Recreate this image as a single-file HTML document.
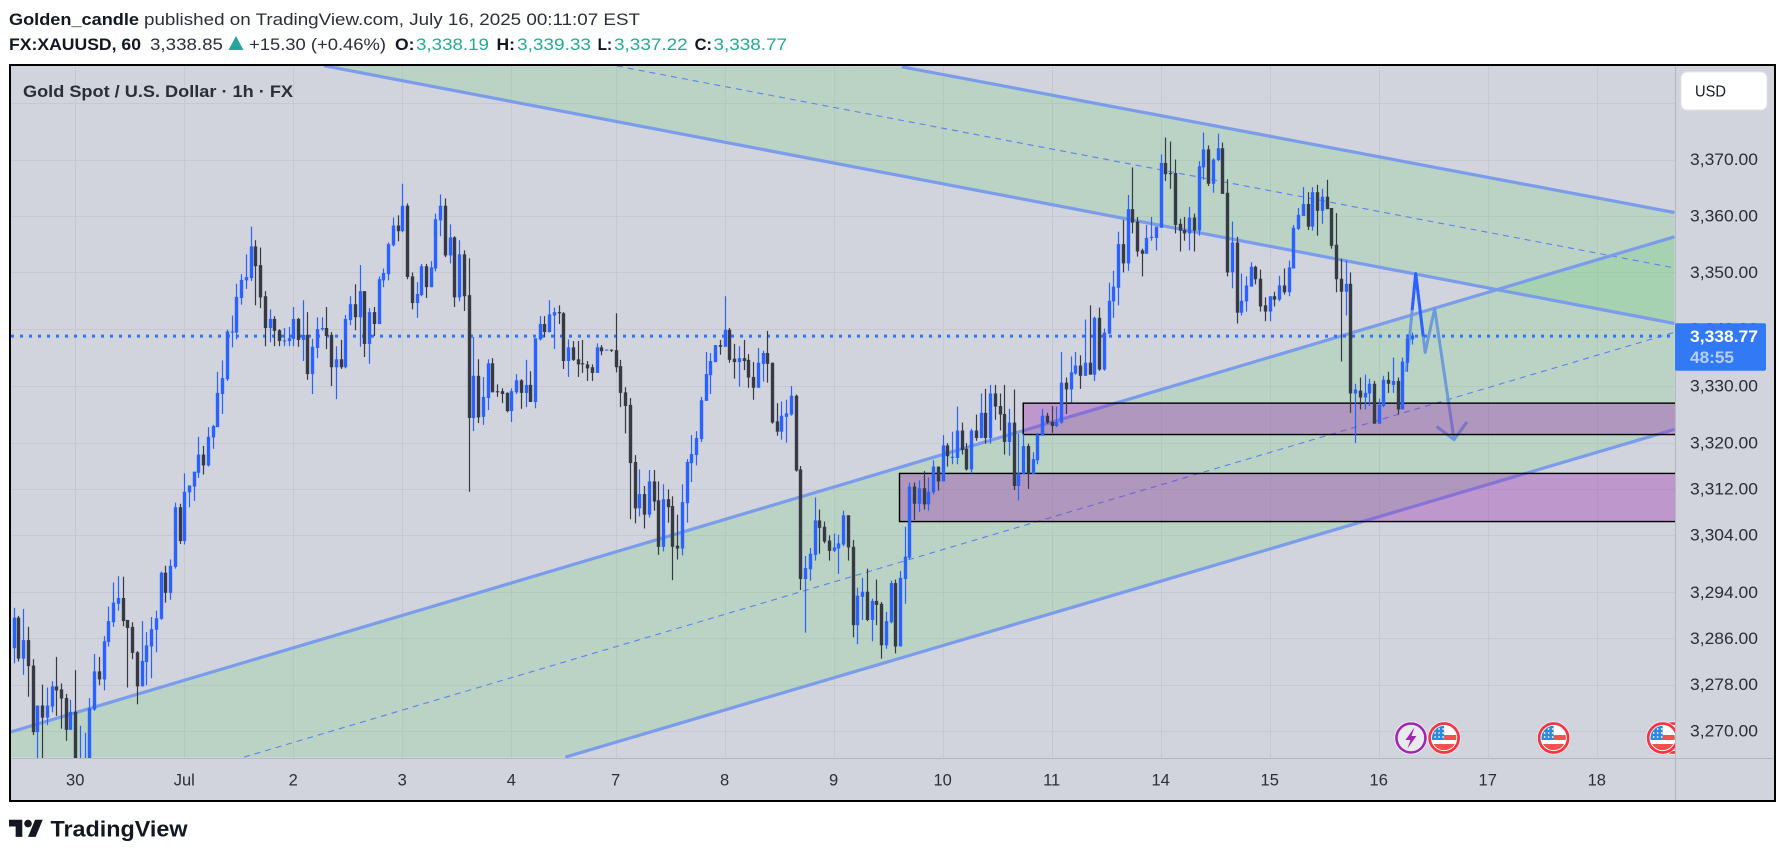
<!DOCTYPE html>
<html lang="en">
<head>
<meta charset="utf-8">
<title>XAUUSD 1h chart</title>
<style>
html,body{margin:0;padding:0;background:#fff;width:1785px;height:856px;overflow:hidden}
svg{display:block;font-family:"Liberation Sans",sans-serif}
</style>
</head>
<body>
<svg id="root" xmlns="http://www.w3.org/2000/svg" width="1785" height="856" viewBox="0 0 1785 856">
  <defs>
    <clipPath id="plotClip"><rect x="11" y="66" width="1664" height="692"/></clipPath>
    <clipPath id="badgeClip"><circle cx="0" cy="0" r="12.2"/></clipPath>
  </defs>
  <rect x="0" y="0" width="1785" height="856" fill="#ffffff"/>

  <g fill="#131722">
    <text x="9" y="25" font-size="17" font-weight="bold" textLength="130" lengthAdjust="spacingAndGlyphs">Golden_candle</text>
    <text x="144" y="25" font-size="17" fill="#2a2e39" textLength="496" lengthAdjust="spacingAndGlyphs">published on TradingView.com, July 16, 2025 00:11:07 EST</text>
    <text x="9" y="50" font-size="17" font-weight="bold" textLength="132" lengthAdjust="spacingAndGlyphs">FX:XAUUSD, 60</text>
    <text x="150" y="50" font-size="17" fill="#2a2e39" textLength="73" lengthAdjust="spacingAndGlyphs">3,338.85</text>
    <polygon points="236,36 243.5,50 228.5,50" fill="#26a69a"/>
    <text x="249" y="50" font-size="17" fill="#2a2e39" textLength="137" lengthAdjust="spacingAndGlyphs">+15.30 (+0.46%)</text>
    <text x="395" y="50" font-size="17" font-weight="bold" textLength="19.5" lengthAdjust="spacingAndGlyphs">O:</text>
    <text x="416" y="50" font-size="17" fill="#22ab94" textLength="73" lengthAdjust="spacingAndGlyphs">3,338.19</text>
    <text x="496.5" y="50" font-size="17" font-weight="bold" textLength="18.5" lengthAdjust="spacingAndGlyphs">H:</text>
    <text x="517" y="50" font-size="17" fill="#22ab94" textLength="74" lengthAdjust="spacingAndGlyphs">3,339.33</text>
    <text x="597.6" y="50" font-size="17" font-weight="bold" textLength="14.5" lengthAdjust="spacingAndGlyphs">L:</text>
    <text x="614" y="50" font-size="17" fill="#22ab94" textLength="73.7" lengthAdjust="spacingAndGlyphs">3,337.22</text>
    <text x="694.6" y="50" font-size="17" font-weight="bold" textLength="17.4" lengthAdjust="spacingAndGlyphs">C:</text>
    <text x="713.5" y="50" font-size="17" fill="#22ab94" textLength="73.5" lengthAdjust="spacingAndGlyphs">3,338.77</text>
  </g>

  <rect x="10" y="65" width="1765" height="736" fill="#d1d4dc"/>
  <g id="grid"></g>
  <g id="drawings" clip-path="url(#plotClip)"></g>
  <g id="series" clip-path="url(#plotClip)"></g>
  <g id="events" clip-path="url(#plotClip)"></g>

  <line x1="1675.5" y1="65" x2="1675.5" y2="801" stroke="#b4b7c0" stroke-width="1"/>
  <line x1="10" y1="758.5" x2="1775" y2="758.5" stroke="#b4b7c0" stroke-width="1"/>
  <g id="priceAxis"></g>
  <g id="timeAxis"></g>

  <rect x="1675" y="323.3" width="91" height="47.4" rx="2" fill="#3179f5"/>
  <text x="1690" y="342" font-size="17" font-weight="bold" fill="#ffffff" textLength="68" lengthAdjust="spacingAndGlyphs">3,338.77</text>
  <text x="1690" y="363" font-size="17" font-weight="bold" fill="#b5cffb" textLength="44" lengthAdjust="spacingAndGlyphs">48:55</text>

  <rect x="1681" y="72" width="86" height="38" rx="6" fill="#ffffff" stroke="#e3e5ec" stroke-width="1"/>
  <text x="1695" y="96.5" font-size="16" fill="#131722" textLength="31" lengthAdjust="spacingAndGlyphs">USD</text>

  <text x="23" y="97" font-size="16.5" font-weight="bold" fill="#2a2e39" textLength="270" lengthAdjust="spacingAndGlyphs">Gold Spot / U.S. Dollar · 1h · FX</text>

  <rect x="10" y="65" width="1765" height="736" fill="none" stroke="#000000" stroke-width="2"/>

  <g>
    <g transform="translate(9,816) scale(0.95)" fill="#131722">
      <path d="M14 22H7V11H0V4h14v18zM28 22h-8l7.5-18h8L28 22z"/>
      <circle cx="20" cy="8" r="4"/>
    </g>
    <text x="50.5" y="836.5" font-size="22" font-weight="bold" fill="#131722" textLength="137" lengthAdjust="spacingAndGlyphs">TradingView</text>
  </g>
</svg>

<script>
const candleOpen = [
3284.3,3289.6,3282.5,3285.7,3281.3,3269.8,3274.4,3272.3,3274.2,3277.7,
3277.2,3275.7,3270.2,3273.3,3261,3262,3262,3273.7,3280.3,3278.9,
3285.4,3288.8,3292,3293,3289.2,3288,3283.6,3277.7,3281.9,3284.6,
3287.5,3289.4,3297.4,3293.9,3298.4,3308.8,3302.9,3311.4,3312.4,3314.8,
3318,3316.1,3321,3322.8,3328.6,3331.2,3339.4,3339.4,3345.5,3348.6,
3349,3354.6,3351.3,3345.8,3340.2,3341.8,3339.8,3337.9,3337.9,3338.3,
3341.8,3338.1,3339,3332.1,3336.7,3340,3340.2,3339,3333.3,3334.7,
3333.3,3341.6,3344.4,3342.1,3346.7,3337.4,3343,3340.9,3348.6,3349.7,
3354.8,3358.3,3357.3,3361.8,3349.3,3344.6,3346,3351.1,3347.4,3350.7,
3359.2,3361.8,3353,3356.2,3345.6,3353.2,3346,3324.4,3331.8,3324.6,
3327.9,3334,3329.1,3329.1,3328.8,3325.6,3328.9,3331,3328.8,3330.2,
3327.2,3338.2,3340.9,3339.5,3342.4,3343,3342.8,3334.4,3336.8,3334.7,
3334,3333.8,3333.3,3332.3,3336.8,3336.3,3336.4,3336.3,3333.5,3328.9,
3326.7,3316.7,3308.6,3311.1,3307.5,3313.3,3310,3301.9,3310.2,3309,
3302.1,3301.6,3309.5,3316.5,3317.9,3320.7,3327.4,3331.9,3334.2,3337.2,
3336.9,3339.9,3334.8,3334.2,3334.9,3334.6,3331.6,3329.7,3333.9,3335.8,
3334.1,3323.8,3322,3324.6,3325,3328.3,3315.4,3296.3,3298,3300.5,
3306.5,3305.4,3303,3301.2,3301.6,3302.3,3307.4,3301.9,3288.3,3293.2,
3294.1,3289.2,3292.5,3292,3284.8,3288.8,3295.6,3284.6,3296.3,3300,
3312.4,3309.4,3312.1,3309.3,3311.4,3315.9,3313.3,3319.6,3317.4,3317.4,
3322.2,3319,3315.4,3322.2,3320.9,3325.3,3320.9,3328.7,3326.5,3325.1,
3320.2,3323.6,3312.5,3314.6,3319.5,3314.6,3317,3321.3,3324.8,3323.7,
3323,3323.6,3330.6,3329.4,3332.2,3333.6,3331.8,3334.1,3332,3342,
3332.9,3339.2,3344.9,3347.3,3355,3351.6,3361.2,3359,3353.9,3353.3,
3356.1,3356.1,3357.9,3369.4,3367.6,3367.6,3358.6,3357.5,3356.9,3359.7,
3357.4,3368.6,3371.8,3365.7,3369.9,3372,3364.1,3350,3355.3,3342.9,
3344.9,3347.5,3351,3348.9,3344.2,3343.1,3345.8,3345.2,3347.7,3346.5,
3350.7,3357.7,3360,3362.1,3358.1,3364.2,3360.9,3363.4,3361.4,3354.9,
3348.9,3346.6,3348,3328.7,3329.2,3328,3328.7,3330.4,3323.4,3326.5,
3331.1,3330.2,3330.9,3325.9,3334.1,3338.2];
const candleHigh = [
3291.3,3289.9,3291.1,3288,3282.4,3274.4,3278,3277.5,3278.6,3282.8,
3278.2,3276.4,3275.4,3280.5,3270.9,3269.7,3275.7,3283.3,3282.8,3286.4,
3291.5,3295.7,3296.8,3296.7,3289.2,3288.8,3283.8,3289,3287.1,3289.7,
3290.8,3297.6,3298.6,3299.7,3309.6,3309.4,3314.7,3312.6,3315,3321.1,
3319.5,3322.8,3323.2,3332.5,3334.5,3339.9,3342.4,3348,3349.7,3353.2,
3358.1,3355.7,3354.4,3346.7,3343.5,3342.3,3340,3340.2,3340.4,3343.9,
3342,3345.1,3343,3338.3,3342.1,3342.1,3343.9,3339.5,3337,3338.1,
3342.5,3345.8,3347.9,3351.3,3346.7,3343.7,3343.9,3349.3,3350.7,3355.3,
3359.7,3360.1,3365.7,3362.2,3350,3348.3,3351.5,3351.5,3352,3360.4,
3363.8,3363.1,3358.5,3356.4,3355.7,3353.9,3352.5,3338.6,3334.7,3331.6,
3334.7,3334.9,3330.3,3329.6,3328.9,3329.6,3332.1,3331.2,3334.6,3332.6,
3338.4,3342.3,3342.3,3345.1,3343.8,3344.2,3343,3338.2,3337.9,3337.9,
3338.1,3334.4,3333.8,3337.5,3337.2,3336.4,3336.4,3342.8,3334.6,3329.8,
3327.9,3317.9,3315.4,3312.5,3315.3,3315.3,3313.3,3312.8,3311.9,3310.7,
3307.5,3312.8,3317.2,3321.4,3322.1,3328.1,3336,3335.8,3337.2,3338.1,
3345.8,3340.2,3337.4,3337,3338.1,3335.6,3334.2,3336.7,3336.2,3339.7,
3334.1,3327,3327.3,3327.6,3330,3328.5,3316,3300.3,3301.7,3310.5,
3308.4,3306.3,3303.9,3304.2,3304,3308.2,3307.4,3303.1,3294.8,3296.5,
3298.1,3292.9,3296.2,3292.3,3290.6,3296,3296.2,3297.7,3305.4,3313.1,
3313.1,3313.5,3315.1,3314,3317,3315.9,3321.4,3320,3322,3326.4,
3323.6,3320,3322.5,3325,3328.7,3329.5,3330.2,3330.2,3328.7,3330.2,
3326,3329.4,3321.6,3321.6,3319.9,3318.4,3321.8,3326,3325.3,3326.5,
3326.4,3336,3331.5,3335.2,3336,3335.4,3341.7,3344.2,3342.2,3343.8,
3340.1,3348.2,3350.3,3357.2,3359.3,3363.7,3368.6,3359.8,3354.2,3358.4,
3359.8,3358.1,3370.9,3373.9,3373.2,3370,3359.5,3359.8,3361.6,3360.4,
3369.7,3374.8,3372.5,3370.2,3374.6,3373,3366.5,3359,3356.3,3349.8,
3349.3,3351.8,3351.2,3350.5,3345.6,3345.8,3346.6,3349.4,3350.7,3352.1,
3358.4,3361.4,3365.1,3364.2,3365.1,3365.5,3364.8,3366.4,3361.4,3360.5,
3352.4,3352.1,3350,3330.4,3331.5,3332,3331.3,3330.9,3327.8,3331.8,
3332.5,3335,3331.5,3335,3339.1,3339.4];
const candleLow = [
3281.7,3282,3279.7,3275.9,3269.3,3263,3263,3271,3273.2,3272.6,
3270.4,3268.3,3270.2,3261,3258,3258,3260,3273.5,3277.9,3277,
3284.6,3288,3290.8,3288.1,3277.5,3282.4,3274.6,3277.7,3277.9,3279.1,
3283.6,3289.2,3292.2,3292.7,3298.1,3302.4,3302.3,3308.8,3309.9,3313.9,
3314.5,3315.9,3319,3322.8,3325.1,3330.9,3336.8,3338.2,3344.3,3347.1,
3348.5,3344.2,3343.7,3337,3337.7,3337,3337,3337,3337,3337,
3336.9,3334.4,3331.1,3328.6,3334.9,3339.7,3336.5,3330,3327.7,3333,
3333.1,3340.7,3339.8,3336.9,3335.1,3333.9,3338.8,3340.9,3347.4,3348.6,
3354.6,3355.5,3357.1,3348.8,3343.5,3342,3345.8,3345.5,3347.4,3350.2,
3356.4,3352.7,3351.6,3343.9,3344.9,3343.2,3311.5,3322.1,3323.5,3323.2,
3325.8,3328.9,3328.1,3327,3325.4,3323.7,3328.6,3326,3326.3,3327.2,
3326.1,3338,3338.6,3339.4,3336.5,3340.9,3333,3331.6,3334.4,3331.6,
3332.3,3330.9,3330.9,3332.3,3335.4,3336.3,3336,3332.4,3326.3,3321.7,
3306.7,3306,3307.2,3305.1,3307,3308.2,3300.5,3301.1,3306.1,3296.1,
3299.7,3300.4,3306.1,3313.2,3316.1,3320.2,3327.4,3328.6,3334.2,3335.5,
3336.9,3334.1,3331.3,3329.9,3332.8,3329.7,3327.6,3329.7,3330.8,3330.6,
3323.4,3321.3,3320.6,3320.1,3324.8,3315,3294.4,3287,3296,3299.5,
3300.7,3302.5,3299.5,3301,3297.2,3302,3299.5,3286.2,3285,3289.2,
3289,3285.5,3288.3,3282.5,3284.2,3288.6,3283.4,3284.6,3292,3299.7,
3306.6,3308,3308.4,3308.2,3311,3311.7,3313.3,3315.9,3316.3,3316.3,
3318,3315.2,3314.7,3320.4,3320.9,3319.9,3319.9,3324.1,3322.2,3318,
3317.8,3311.8,3310,3314.6,3312,3314.6,3316.3,3321.3,3323.4,3321.8,
3322.8,3323.4,3325.1,3327.1,3332,3329.5,3331.8,3332,3330.9,3332.7,
3332.7,3339.2,3342,3344.2,3350,3350.3,3356.9,3352.8,3349.3,3353.3,
3355.6,3353.9,3357.9,3366.2,3364.8,3356.9,3353.7,3355.6,3353.9,3353.7,
3356.5,3366.4,3365.3,3364.1,3369.7,3363.9,3349.3,3347.2,3341,3342.4,
3343.1,3347.5,3347.9,3343.1,3341.4,3341.4,3344,3344.9,3346.1,3345.8,
3350.7,3357.5,3360,3357.5,3357.4,3356.5,3358.6,3361.2,3354.2,3346.5,
3334.3,3342.4,3325.3,3320,3325.9,3325.9,3326.5,3323.4,3323.4,3326.3,
3328.8,3328.8,3325,3325.9,3332.5,3337.3];
const candleClose = [
3289.6,3282.5,3285.7,3281.2,3269.8,3274.4,3272.3,3274.4,3277.7,3277,
3275.6,3270.2,3273.3,3263,3263,3263.5,3273.9,3280.3,3278.9,3285.5,
3289,3292.2,3293,3289,3287.8,3283.5,3277.7,3282.1,3284.8,3287.6,
3289.5,3297.4,3293.9,3298.6,3308.8,3302.9,3311.5,3312.6,3315,3318,
3316.1,3321.1,3323,3328.8,3331.4,3339.6,3339.6,3345.7,3348.7,3349.2,
3354.6,3351.1,3345.6,3340.2,3341.8,3339.7,3337.9,3338,3338.4,3341.8,
3338.1,3339,3332.1,3336.9,3340,3340.2,3338.8,3333.3,3334.7,3333.3,
3341.8,3344.4,3342.1,3346.7,3337.4,3343,3340.9,3348.8,3349.9,3355,
3358.3,3357.3,3361.8,3349.2,3344.6,3346.2,3351.1,3347.4,3350.9,3359.4,
3361.8,3353,3356.2,3345.6,3353.2,3345.8,3324.4,3331.8,3324.5,3328.1,
3334,3328.9,3328.9,3328.6,3325.6,3329.1,3331,3328.8,3330.2,3327.2,
3338.4,3340.9,3339.5,3342.6,3343,3342.8,3334.4,3336.8,3334.6,3333.8,
3333.8,3333.1,3332.3,3336.8,3336.1,3336.4,3336.2,3333.3,3328.8,3326.5,
3316.5,3308.6,3311.1,3307.5,3313.3,3309.8,3301.9,3310.2,3308.8,3301.9,
3301.6,3309.7,3316.7,3318.1,3320.9,3327.5,3332.1,3334.4,3337.2,3336.9,
3339.9,3334.6,3334.2,3334.9,3334.4,3331.5,3329.7,3334.1,3335.8,3333.9,
3323.6,3322,3324.8,3325.2,3328.3,3315.2,3296.3,3298.2,3300.7,3306.5,
3305.2,3302.8,3301.2,3301.8,3302.5,3307.4,3301.8,3288.3,3293.4,3294.1,
3289.2,3292.5,3291.8,3284.8,3289,3295.6,3284.6,3296.5,3300.2,3312.4,
3309.4,3312.1,3309.3,3311.5,3315.9,3313.3,3319.6,3317.7,3317.6,3322.2,
3318.8,3315.4,3322.2,3320.9,3325.3,3320.9,3328.7,3326.4,3325,3320.2,
3323.6,3312.5,3314.7,3319.5,3314.6,3317.2,3321.5,3324.8,3323.6,3323,
3323.7,3330.6,3329.4,3332.4,3333.6,3331.8,3334.1,3332,3342,3332.9,
3339.4,3345,3347.5,3355,3351.6,3361.2,3358.8,3353.7,3353.3,3356.1,
3356.3,3358.1,3369.4,3367.4,3367.4,3358.4,3357.4,3356.9,3359.7,3357.4,
3368.8,3371.8,3365.7,3370,3372,3363.9,3350,3355.3,3342.9,3345,
3347.7,3351,3348.8,3344,3343.1,3345.8,3345.2,3347.7,3346.5,3350.9,
3357.9,3360.2,3362.1,3358.1,3364.2,3360.9,3363.4,3361.2,3354.7,3348.8,
3346.6,3348,3328.7,3329.4,3328,3328.8,3330.4,3323.4,3326.7,3331.1,
3330.4,3330.9,3325.9,3334.3,3338.4,3338.9];

const gridPrices = [3380,3370,3360,3350,3340,3330,3320,3312,3304,3294,3286,3278,3270];
const priceTickValues = [3370,3360,3350,3340,3330,3320,3312,3304,3294,3286,3278,3270];
const priceTickLabels = ["3,370.00","3,360.00","3,350.00","3,340.00","3,330.00","3,320.00","3,312.00","3,304.00","3,294.00","3,286.00","3,278.00","3,270.00"];
const dayTickBars = [13,36,59,82,105,127,150,173,196,219,242,265,288,311,334];
const dayTickLabels = ["30","Jul","2","3","4","7","8","9","10","11","14","15","16","17","18"];
const lastPriceValue = 3338.77;

// channel anchors: [start, end] as bar index and price
const descUpperBars = [187.4,350.4];
const descUpperPrices = [3386.5,3360.6];
const descLowerBars = [65.5,350.4];
const descLowerPrices = [3386.7,3341.0];
const descMidBars = [127.3,350.4];
const descMidPrices = [3386.65,3350.8];
const ascUpperBars = [-0.76,350.4];
const ascUpperPrices = [3269.8,3356.3];
const ascLowerBars = [116.4,350.4];
const ascLowerPrices = [3265.5,3322.4];
const ascMidBars = [48.6,350.4];
const ascMidPrices = [3265.5,3339.45];
const ascFillCornerBar = [-0.76];
const ascFillCornerPrice = [3265.5];

const zoneStartBars = [213,186.9];
const zoneTopPrices = [3327.0,3314.7];
const zoneBottomPrices = [3321.5,3306.3];
const zoneEndBar = 351;

const forecastBars = [293.8,295.8,297.8,299.8,303.9];
const forecastPrices = [3332.5,3349.8,3335.9,3343.6,3320.6];
const arrowHeadBars = [300.2,303.9,306.6];
const arrowHeadPrices = [3322.9,3320.6,3323.7];

const lightningEventBars = [294.8];
const usEventBars = [350,301.8,324.9,347.9];

const SVGNS = 'http://www.w3.org/2000/svg';
const PLOT_LEFT = 10, PLOT_RIGHT = 1675, TOP = 65, BOTTOM = 758;
const xScale = function (bar) { return 13.6 + 4.74 * bar; };
const yScale = function (price) { return 103.3 + 18972 * Math.log(3380 / price); };

function make(tag, attrs, parent) {
  const el = document.createElementNS(SVGNS, tag);
  for (const k in attrs) el.setAttribute(k, attrs[k]);
  parent.appendChild(el);
  return el;
}
const gridLayer = document.getElementById('grid');
const drawLayer = document.getElementById('drawings');
const seriesLayer = document.getElementById('series');
const eventLayer = document.getElementById('events');
const priceAxis = document.getElementById('priceAxis');
const timeAxis = document.getElementById('timeAxis');

gridPrices.forEach(function (p) {
  const y = Math.round(yScale(p)) + 0.5;
  const el = make('line', {x1: PLOT_LEFT, x2: PLOT_RIGHT, y1: y, y2: y, stroke: '#c6c9d2', 'stroke-width': 1}, gridLayer);
  
  
});
dayTickBars.forEach(function (b) {
  const x = Math.round(xScale(b)) + 0.5;
  const el = make('line', {x1: x, x2: x, y1: TOP, y2: BOTTOM, stroke: '#c6c9d2', 'stroke-width': 1}, gridLayer);
  
  
});

function pts(bars, prices) {
  return bars.map(function (b, i) { return xScale(b) + ',' + yScale(prices[i]); }).join(' ');
}
function channelFill(bars1, prices1, bars2, prices2, name) {
  const points = pts(bars1, prices1) + ' ' + pts(bars2.slice().reverse(), prices2.slice().reverse());
  const el = make('polygon', {points: points, fill: 'rgba(80,206,85,0.17)'}, drawLayer);
  
  
}
function trendLine(bars, prices, dashed, name) {
  const attrs = {x1: xScale(bars[0]), y1: yScale(prices[0]), x2: xScale(bars[1]), y2: yScale(prices[1])};
  if (dashed) {
    attrs.stroke = '#5b83ef';
    attrs['stroke-width'] = 1.1;
    attrs['stroke-dasharray'] = '6 5';
  } else {
    attrs.stroke = '#7b9cea';
    attrs['stroke-width'] = 3.2;
  }
  const el = make('line', attrs, drawLayer);
  
  
}
channelFill(descUpperBars, descUpperPrices, descLowerBars, descLowerPrices, 'descending-channel-fill');
channelFill(ascUpperBars.concat(ascLowerBars.slice().reverse(), ascFillCornerBar), ascUpperPrices.concat(ascLowerPrices.slice().reverse(), ascFillCornerPrice), [], [], 'ascending-channel-fill');
trendLine(descUpperBars, descUpperPrices, false, 'descending-channel-upper');
trendLine(descMidBars, descMidPrices, true, 'descending-channel-median');
trendLine(descLowerBars, descLowerPrices, false, 'descending-channel-lower');
trendLine(ascUpperBars, ascUpperPrices, false, 'ascending-channel-upper');
trendLine(ascMidBars, ascMidPrices, true, 'ascending-channel-median');
trendLine(ascLowerBars, ascLowerPrices, false, 'ascending-channel-lower');

const forecast = make('polyline', {points: pts(forecastBars, forecastPrices), fill: 'none', stroke: '#6c9cd8', 'stroke-width': 3, 'stroke-linejoin': 'round'}, drawLayer);


const forecastPeak = make('polyline', {points: pts(forecastBars.slice(0, 3), forecastPrices.slice(0, 3)), fill: 'none', stroke: '#2962ff', 'stroke-width': 3, 'stroke-linejoin': 'round', 'stroke-dasharray': '0 62 100 200'}, drawLayer);


const arrowHead = make('polyline', {points: pts(arrowHeadBars, arrowHeadPrices), fill: 'none', stroke: '#6c9cd8', 'stroke-width': 3, 'stroke-linejoin': 'round'}, drawLayer);



zoneStartBars.forEach(function (b, i) {
  const x = xScale(b), yTop = yScale(zoneTopPrices[i]), yBot = yScale(zoneBottomPrices[i]);
  const el = make('rect', {x: x, y: yTop, width: xScale(zoneEndBar) - x, height: yBot - yTop, fill: 'rgba(156,39,176,0.35)', stroke: '#000000', 'stroke-width': 1.4}, drawLayer);
  
  
});

const priceLine = make('line', {x1: PLOT_LEFT + 1, x2: PLOT_RIGHT, y1: yScale(lastPriceValue), y2: yScale(lastPriceValue), stroke: '#2f74f6', 'stroke-width': 3, 'stroke-dasharray': '3 6'}, drawLayer);



candleOpen.forEach(function (open, i) {
  const close = candleClose[i];
  const color = close >= open ? '#2962ff' : '#363a45';
  const cx = Math.round(xScale(i));
  const bodyTop = yScale(Math.max(open, close));
  const bodyBottom = yScale(Math.min(open, close));
  const hi = yScale(candleHigh[i]);
  const lo = yScale(candleLow[i]);
  const g = make('g', {}, seriesLayer);
  
  
  const wick = make('rect', {x: cx - 0.1, y: hi, width: 1.2, height: Math.max(lo - hi, 1), fill: color}, g);
  
  
  const body = make('rect', {x: cx - 1.2, y: bodyTop, width: 3.4, height: Math.max(bodyBottom - bodyTop, 1), fill: color}, g);
  
  
});

usEventBars.forEach(function (b) {
  const g = make('g', {transform: 'translate(' + xScale(b) + ',738)'}, eventLayer);
  
  
  make('circle', {cx: 0, cy: 0, r: 16.5, fill: '#ffffff'}, g);
  const flag = make('g', {'clip-path': 'url(#badgeClip)'}, g);
  make('rect', {x: -14, y: -14, width: 28, height: 28, fill: '#ffffff'}, flag);
  make('rect', {x: 0, y: -3, width: 14, height: 5, fill: '#f0524f'}, flag);
  make('rect', {x: -14, y: 6, width: 28, height: 8, fill: '#f0524f'}, flag);
  make('rect', {x: -14, y: -14, width: 14, height: 16, fill: '#2e88e0'}, flag);
  [-9, -5, -1].forEach(function (dx) {
    [-9, -5, -1].forEach(function (dy) {
      make('circle', {cx: dx, cy: dy, r: 0.9, fill: '#ffffff'}, flag);
    });
  });
  make('circle', {cx: 0, cy: 0, r: 14.5, fill: 'none', stroke: '#f23645', 'stroke-width': 2.8}, g);
});
lightningEventBars.forEach(function (b) {
  const g = make('g', {transform: 'translate(' + xScale(b) + ',738)'}, eventLayer);
  
  
  make('circle', {cx: 0, cy: 0, r: 16.5, fill: '#ffffff'}, g);
  make('circle', {cx: 0, cy: 0, r: 14.5, fill: '#e8eaf0', stroke: '#9c27b0', 'stroke-width': 2.6}, g);
  make('polygon', {points: '3.5,-10.5 -5.5,2 -0.5,2 -3.5,10.5 5.5,-2 0.5,-2', fill: '#9c27b0'}, g);
});

priceTickValues.forEach(function (p, i) {
  const el = make('text', {x: 1690, y: yScale(p) + 5.5, 'font-size': 17, fill: '#2a2e39', textLength: 68, lengthAdjust: 'spacingAndGlyphs'}, priceAxis);
  el.textContent = priceTickLabels[i];
  
  
});
dayTickBars.forEach(function (b, i) {
  const el = make('text', {x: xScale(b), y: 785.3, 'font-size': 16.5, fill: '#2a2e39', 'text-anchor': 'middle'}, timeAxis);
  el.textContent = dayTickLabels[i];
  
  
});
</script>
</body>
</html>
